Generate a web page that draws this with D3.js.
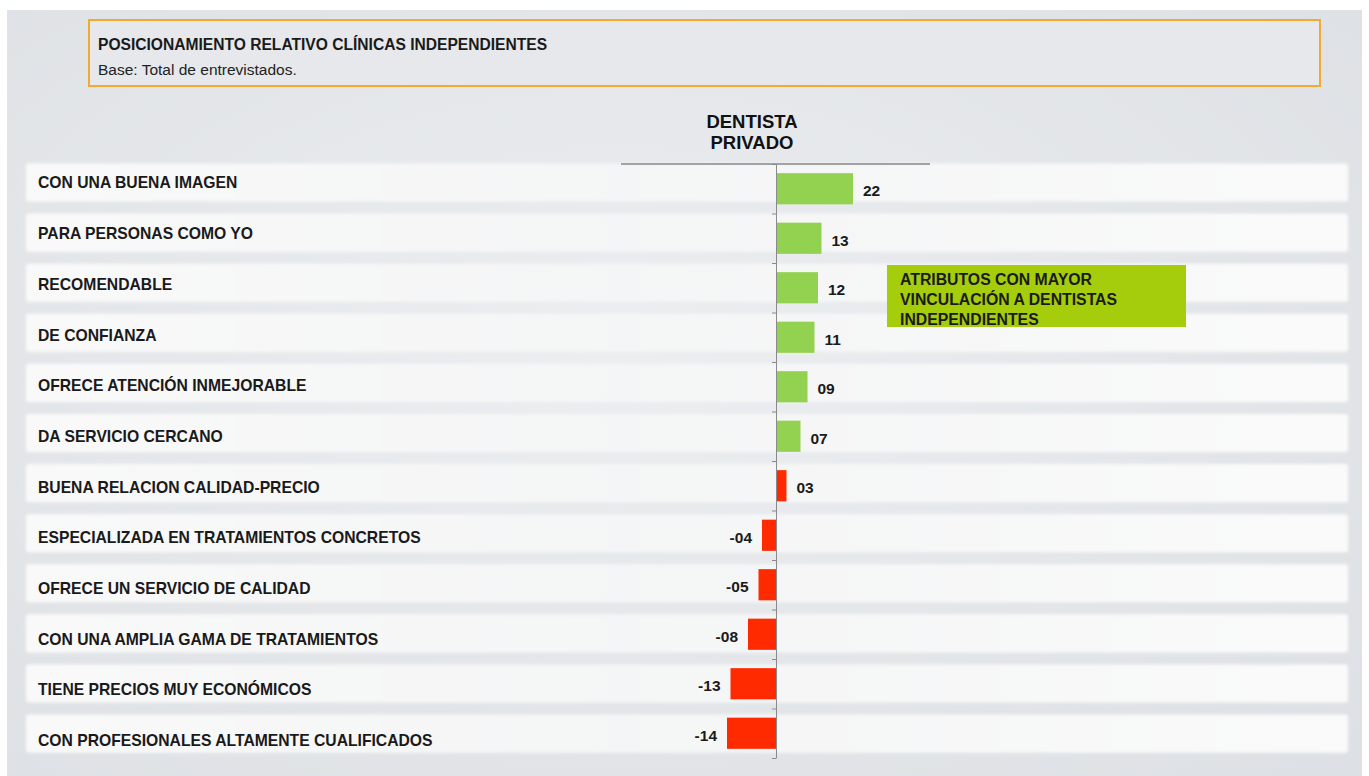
<!DOCTYPE html>
<html>
<head>
<meta charset="utf-8">
<script src="https://cdn.jsdelivr.net/npm/d3@7"></script>
<style>
  html, body { margin: 0; padding: 0; background: #ffffff; }
  svg { display: block; font-family: "Liberation Sans", Arial, sans-serif; }
</style>
</head>
<body>
<svg id="chart" width="1369" height="776"></svg>
<script>
// ---- data ----
const categories = [
  "CON UNA BUENA IMAGEN",
  "PARA PERSONAS COMO YO",
  "RECOMENDABLE",
  "DE CONFIANZA",
  "OFRECE ATENCIÓN INMEJORABLE",
  "DA SERVICIO CERCANO",
  "BUENA RELACION CALIDAD-PRECIO",
  "ESPECIALIZADA EN TRATAMIENTOS CONCRETOS",
  "OFRECE UN SERVICIO DE CALIDAD",
  "CON UNA AMPLIA GAMA DE TRATAMIENTOS",
  "TIENE PRECIOS MUY ECONÓMICOS",
  "CON PROFESIONALES ALTAMENTE CUALIFICADOS"
];
const values = [22, 13, 12, 11, 9, 7, 3, -4, -5, -8, -13, -14];
const highlighted = [true, true, true, true, true, true, false, false, false, false, false, false];
const chartTitle = "POSICIONAMIENTO RELATIVO CLÍNICAS INDEPENDIENTES";
const chartSubtitle = "Base: Total de entrevistados.";
const seriesHeader = ["DENTISTA", "PRIVADO"];
const noteLines = ["ATRIBUTOS CON MAYOR", "VINCULACIÓN A DENTISTAS", "INDEPENDIENTES"];

// ---- setup ----
const svg = d3.select("#chart");
const defs = svg.append("defs");

const bgGrad = defs.append("radialGradient").attr("id", "bgGrad")
  .attr("cx", "45%").attr("cy", "45%").attr("r", "75%");
bgGrad.append("stop").attr("offset", "0%").attr("stop-color", "#eceef0");
bgGrad.append("stop").attr("offset", "100%").attr("stop-color", "#dde0e4");

const bandGrad = defs.append("linearGradient").attr("id", "bandGrad")
  .attr("x1", "0%").attr("x2", "100%").attr("y1", "0%").attr("y2", "0%");
bandGrad.append("stop").attr("offset", "0%").attr("stop-color", "#f9f9f9");
bandGrad.append("stop").attr("offset", "45%").attr("stop-color", "#f4f5f6");
bandGrad.append("stop").attr("offset", "100%").attr("stop-color", "#fafafa");

defs.append("filter").attr("id", "soft")
  .attr("x", "-2%").attr("y", "-20%").attr("width", "104%").attr("height", "140%")
  .append("feGaussianBlur").attr("stdDeviation", 1.6);

// background
svg.append("rect").attr("x", 7).attr("y", 10).attr("width", 1355).attr("height", 766)
  .attr("fill", "url(#bgGrad)");

// title box
svg.append("rect").attr("x", 89).attr("y", 20).attr("width", 1231).attr("height", 66)
  .attr("fill", "#e6e8eb").attr("stroke", "#f2ab2e").attr("stroke-width", 2);
svg.append("text").attr("x", 98).attr("y", 50)
  .attr("font-size", 15.6).attr("font-weight", "bold").attr("fill", "#1a1a1a")
  .text(chartTitle);
svg.append("text").attr("x", 98).attr("y", 75)
  .attr("font-size", 15.5).attr("fill", "#222")
  .text(chartSubtitle);

// ---- scales ----
const x = d3.scaleLinear().domain([-20, 30]).range([706, 881]);
const yBar = d3.scaleBand().domain(categories).range([164, 758]).paddingInner(0.37).paddingOuter(0.185);
const yRow = d3.scaleBand().domain(categories).range([157.45, 758.65]).paddingInner(0.24).paddingOuter(0.12);
const yLab = d3.scaleBand().domain(categories).range([157.5, 765.9]);

// row bands
svg.append("g").selectAll("rect").data(categories).join("rect")
  .attr("x", 26).attr("width", 1322)
  .attr("y", d => yRow(d)).attr("height", yRow.bandwidth())
  .attr("rx", 3)
  .attr("fill", "url(#bandGrad)")
  .attr("filter", "url(#soft)");

// category labels
svg.append("g").selectAll("text").data(categories).join("text")
  .attr("x", 38)
  .attr("y", d => yLab(d) + yLab.bandwidth() / 2 + 5.6)
  .attr("font-size", 15.7).attr("font-weight", "bold").attr("fill", "#1a1a1a")
  .text(d => d);

// header
svg.append("g").selectAll("text").data(seriesHeader).join("text")
  .attr("x", 752).attr("y", (d, i) => 128 + i * 21)
  .attr("text-anchor", "middle")
  .attr("font-size", 18.5).attr("font-weight", "bold").attr("fill", "#111")
  .text(d => d);
svg.append("line").attr("x1", 621).attr("x2", 930).attr("y1", 164).attr("y2", 164)
  .attr("stroke", "#555").attr("stroke-width", 1);

// bars
const data = categories.map((c, i) => ({ c, v: values[i], hi: highlighted[i] }));
svg.append("g").selectAll("rect").data(data).join("rect")
  .attr("x", d => x(Math.min(0, d.v)))
  .attr("width", d => Math.abs(x(d.v) - x(0)))
  .attr("y", d => yBar(d.c))
  .attr("height", yBar.bandwidth())
  .attr("fill", d => d.hi ? "#93d151" : "#ff2a00");

// value labels
const fmt = v => (v < 0 ? "-" : "") + String(Math.abs(v)).padStart(2, "0");
svg.append("g").selectAll("text").data(data).join("text")
  .attr("x", d => d.v >= 0 ? x(d.v) + 10 : x(d.v) - 10)
  .attr("y", d => yBar(d.c) + yBar.bandwidth() / 2 + 7.5)
  .attr("text-anchor", d => d.v >= 0 ? "start" : "end")
  .attr("font-size", 15.5).attr("font-weight", "bold").attr("fill", "#1a1a1a")
  .text(d => fmt(d.v));

// zero axis with boundary ticks
const boundary = d3.scaleLinear().domain([0, categories.length]).range([164, 758]);
const axisG = svg.append("g").attr("transform", `translate(${x(0)},0)`)
  .call(d3.axisLeft(boundary).ticks(categories.length).tickSize(4).tickSizeOuter(0).tickFormat(""));
axisG.selectAll("path, line").attr("stroke", "#8a8a8a");

// note box
svg.append("rect").attr("x", 887).attr("y", 265).attr("width", 299).attr("height", 62)
  .attr("fill", "#a5cd0c");
svg.append("g").selectAll("text").data(noteLines).join("text")
  .attr("x", 900).attr("y", (d, i) => 284.5 + i * 20.3)
  .attr("font-size", 15.8).attr("font-weight", "bold").attr("fill", "#1a1a1a")
  .text(d => d);
</script>
</body>
</html>
